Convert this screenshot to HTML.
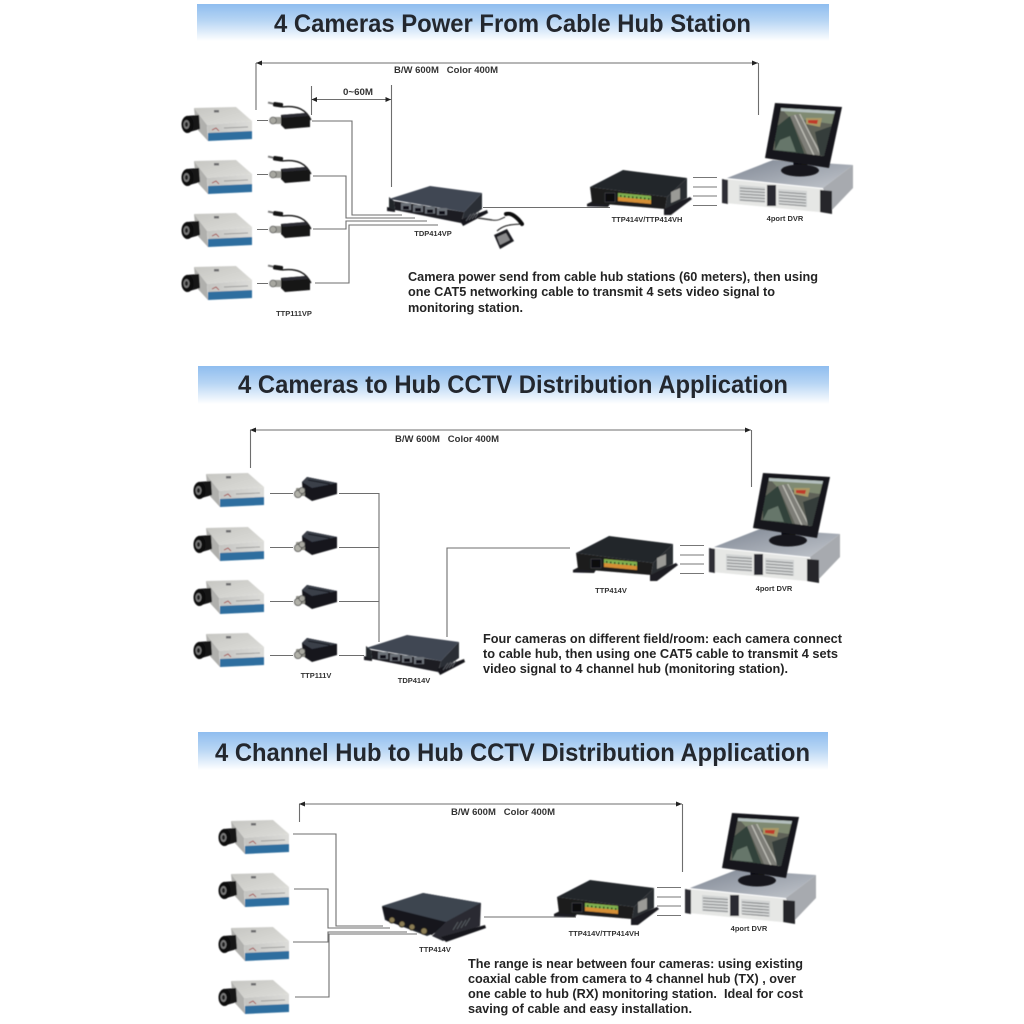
<!DOCTYPE html>
<html><head><meta charset="utf-8"><title>CCTV Distribution Applications</title>
<style>
html,body{margin:0;padding:0;background:#fff}
svg{display:block}
text{font-family:"Liberation Sans",sans-serif;font-weight:bold;fill:#222}
.t{font-size:25px;fill:#23272e}
.b{font-size:13px;fill:#242424}
.d{font-size:9px;fill:#333}
.l{font-size:7.5px;fill:#333}
.w{fill:none;stroke:#6e6e6e;stroke-width:1.1}
</style></head><body>
<svg xmlns="http://www.w3.org/2000/svg" width="1024" height="1024" viewBox="0 0 1024 1024">
<defs>
<linearGradient id="band" x1="0" y1="0" x2="0" y2="1"><stop offset="0" stop-color="#8fbdef"/><stop offset=".45" stop-color="#b7d5f4"/><stop offset="1" stop-color="#fff"/></linearGradient>
<linearGradient id="camtop" x1="0" y1="0" x2="1" y2="1"><stop offset="0" stop-color="#c6c6c2"/><stop offset="1" stop-color="#dededa"/></linearGradient>
<linearGradient id="camfront" x1="0" y1="0" x2="1" y2="0"><stop offset="0" stop-color="#c4c4c1"/><stop offset="1" stop-color="#dcdcd9"/></linearGradient>
<linearGradient id="dvrtop" x1="0" y1="0" x2="1" y2="1"><stop offset="0" stop-color="#7f8794"/><stop offset="1" stop-color="#c2c6cc"/></linearGradient>
<clipPath id="scr"><polygon points="781,108 835,111 824,156 773,150"/></clipPath>
<filter id="s" x="-5%" y="-5%" width="110%" height="110%"><feGaussianBlur stdDeviation="0.5"/></filter>

<g id="cam" filter="url(#s)">
<polygon points="194,108 236,107 252,121 207,125" fill="url(#camtop)"/>
<polygon points="194,108 207,125 208,141 196,128" fill="#b0b0ad"/>
<polygon points="207,125 252,121 252,133 208,134" fill="url(#camfront)"/>
<polygon points="208,133 252,131 252,139 208,141" fill="#2f6e9f"/>
<rect x="214" y="110" width="5" height="2.500" fill="#6d6d70"/>
<path d="M212,130l4,-2l3,3" stroke="#a03030" stroke-width=".8" fill="none"/>
<path d="M224,128l24,-1" stroke="#8a8a8a" stroke-width=".7"/>
<polygon points="186,116 199,115 200,129 186,133" fill="#131316"/>
<ellipse cx="187.500" cy="124.500" rx="6" ry="8.500" fill="#0e0e0e"/>
<ellipse cx="186.500" cy="124.500" rx="3" ry="4.500" fill="#7d7d7d"/>
<ellipse cx="186.500" cy="124.500" rx="1.600" ry="2.500" fill="#222"/>
</g>

<g id="balunp" filter="url(#s)">
<path d="M282,107C298,105 306,110 311,120" fill="none" stroke="#111" stroke-width="1.300"/>
<rect x="268" y="102" width="6" height="2" fill="#777" transform="rotate(12 270 103)"/>
<rect x="273" y="102.500" width="10" height="4.500" rx="1.500" fill="#161616" transform="rotate(8 278 105)"/>
<rect x="271" y="117" width="10" height="7" rx="1" fill="#9c9c96"/>
<circle cx="273" cy="120.500" r="3.400" fill="#a7a7a0" stroke="#555" stroke-width=".7"/>
<polygon points="281,115 306,113 310,119 310,127 285,129 281,125" fill="#131315"/>
<polygon points="281,115 306,113 308,116 283,118" fill="#2b2c30"/>
</g>

<g id="balun" filter="url(#s)">
<polygon points="302,482 307,477 337,483 337,494 312,501 303,495" fill="#16181c"/>
<polygon points="302,482 307,477 337,483 312,488" fill="#3a404a"/>
<path d="M308,480l22,4" stroke="#15171b" stroke-width="1"/>
<rect x="296" y="488" width="9" height="8" rx="1" fill="#8e8e86"/>
<circle cx="298" cy="494" r="3.600" fill="#b0b0a8" stroke="#444" stroke-width=".8"/>
<circle cx="302" cy="490.500" r="3" fill="#a8a8a0" stroke="#444" stroke-width=".7"/>
</g>

<g id="hub" filter="url(#s)">
<polygon points="364,656 372,658 372,661 364,660" fill="#1d1e22"/>
<polygon points="366,646 371,650 372,659 366,657" fill="#23252a"/>
<polygon points="366,648 407,635 459,642 441,661" fill="#3f4653"/>
<polygon points="371,650 441,661 438,672 372,659" fill="#1c1e24"/>
<polygon points="441,661 459,642 459,658 438,673" fill="#2c2f36"/>
<polygon points="437,669 464,659 465,662 440,675" fill="#17181c"/>
<g fill="#6a6f77"><rect x="378" y="652" width="10" height="7"/><rect x="390" y="654" width="10" height="7"/><rect x="402" y="655.500" width="10" height="7"/><rect x="414" y="657" width="10" height="7"/></g>
<g fill="#111114"><rect x="380" y="655" width="6" height="3.500"/><rect x="392" y="657" width="6" height="3.500"/><rect x="404" y="658.500" width="6" height="3.500"/><rect x="416" y="660" width="6" height="3.500"/></g>
<path d="M443,670l5,-7M446,669l5,-7M449,668l5,-7M452,667l4,-6" stroke="#5a5d63" stroke-width=".9"/>
</g>

<g id="coax" filter="url(#s)">
<polygon points="382,907 423,893 481,903 450,927 427,936 385,920" fill="#23262c"/>
<polygon points="382,906 423,893 481,903 446,922" fill="#3c4450"/>
<polygon points="382,906 446,922 432,935 387,921" fill="#15161a"/>
<polygon points="446,922 481,903 480,926 443,941 432,936" fill="#2a2c32"/>
<polygon points="441,937 485,925 486,928 446,942" fill="#15161a"/>
<path d="M453,930l5,-8M457,929l5,-8M461,928l5,-8M465,926l5,-8" stroke="#55585e" stroke-width="1"/>
<g fill="#8b7d55" stroke="#26231a" stroke-width="1"><circle cx="392" cy="920" r="3"/><circle cx="402" cy="924" r="3"/><circle cx="412" cy="927" r="3"/><circle cx="424" cy="931" r="3.300"/></g>
</g>

<g id="ttp" filter="url(#s)">
<polygon points="587,204 595,200 610,204 608,207 587,206.500" fill="#1b1c20"/>
<polygon points="664,208 690,197 692,199 671,215 664,215" fill="#1c1d21"/>
<polygon points="590,187 623,170 687,178 667,197" fill="#24262a"/>
<polygon points="590,187 667,197 665,209 592,203" fill="#1b1c1f"/>
<polygon points="667,197 687,178 687,198 665,209" fill="#2c2d31"/>
<polygon points="671,192 680,188 680,199 671,203" fill="#9a9a96"/>
<rect x="605" y="193" width="10" height="9" fill="#07070a" stroke="#4a4a4e" stroke-width=".6"/>
<polygon points="618,193 651,196 651,204 618,201" fill="#d58f35"/>
<polygon points="618,193 651,196 651,200 618,197" fill="#7fb050"/>
<g fill="#2e4a1e"><rect x="620" y="195" width="1.500" height="2"/><rect x="624" y="195.500" width="1.500" height="2"/><rect x="628" y="196" width="1.500" height="2"/><rect x="632" y="196.300" width="1.500" height="2"/><rect x="636" y="196.700" width="1.500" height="2"/><rect x="640" y="197" width="1.500" height="2"/><rect x="644" y="197.500" width="1.500" height="2"/><rect x="648" y="198" width="1.500" height="2"/></g>
</g>

<g id="mon" filter="url(#s)">
<polygon points="793,158 808,160 807,170 794,170" fill="#101012"/>
<ellipse cx="800" cy="170.500" rx="19" ry="6" fill="#15161a"/>
<polygon points="775,103 842,107 829,168 765,158" fill="#17181c"/>
<g clip-path="url(#scr)">
<rect x="770" y="105" width="70" height="55" fill="#5e6258"/>
<polygon points="781,108 836,111 832,124 790,118" fill="#7f8a72"/>
<polygon points="781,108 836,111 835,114 781,111" fill="#b4bfbe"/>
<polygon points="775,128 790,116 806,158 775,152" fill="#33423a"/>
<polygon points="790,116 798,114 824,156 808,156" fill="#7e7e78"/>
<polygon points="794,115 795.500,115 815,156 813.500,156" fill="#bdbdb6"/>
<polygon points="799,114 800.500,114 822,156 820.500,156" fill="#b5b5ae"/>
<polygon points="806,118 822,118 820,127 806,124" fill="#a99a66"/>
<polygon points="808,120 818,120 817,124 808,123" fill="#bf3a2c"/>
<polygon points="815,132 832,126 826,156 820,156" fill="#353c3a"/>
<polygon points="780,140 790,136 796,152 775,150" fill="#66766a"/>
</g>
</g>

<g id="dvr" filter="url(#s)">
<polygon points="727,178 773,160 853,165 823,188" fill="url(#dvrtop)"/>
<polygon points="725,179 823,189 829,213 725,203" fill="#e6e7e5"/>
<polygon points="823,188 853,165 853,188 831,211" fill="#a7aaaf"/>
<polygon points="722,179 728,180 728,204 722,203" fill="#2d2f34"/>
<polygon points="820,190 832,191 832,214 820,212" fill="#25272b"/>
<polygon points="739,185 765,187 765,203 739,201" fill="#d2d4d4"/>
<polygon points="778,189 807,191 807,207 778,204" fill="#d2d4d4"/>
<rect x="767" y="185" width="9" height="21" fill="#2a2c30"/>
<path d="M740,188l25,1.500M740,191l25,1.500M740,194l25,1.500M740,197l25,1.500M740,200l25,1.500M779,192l27,2M779,195l27,2M779,198l27,2M779,201l27,2M779,204l27,2" stroke="#686a6d" stroke-width=".8" fill="none"/>
</g>

<g id="stubs" fill="none" stroke="#777" stroke-width="1.100"><path d="M693,177.500H717M693,187H717M693,196H717M693,205.500H717"/></g>
</defs>

<rect width="1024" height="1024" fill="#fff"/>

<rect x="197" y="4" width="632" height="37" fill="url(#band)"/>
<rect x="198" y="366" width="631" height="38" fill="url(#band)"/>
<rect x="198" y="732" width="630" height="38" fill="url(#band)"/>
<text class="t" x="274" y="32" textLength="477" lengthAdjust="spacingAndGlyphs">4 Cameras Power From Cable Hub Station</text>
<text class="t" x="238" y="393" textLength="550" lengthAdjust="spacingAndGlyphs">4 Cameras to Hub CCTV Distribution Application</text>
<text class="t" x="215" y="761" textLength="595" lengthAdjust="spacingAndGlyphs">4 Channel Hub to Hub CCTV Distribution Application</text>

<!-- Scheme 1 -->
<g class="w">
<path d="M256,63H758M256,63V110M758.500,63V115"/>
<path d="M311,99.500H391M311.500,86V115M391.500,85V187"/>
<path d="M257,120.500H268M257,174.500H268M257,229.500H268M257,283.500H268"/>
<path d="M312,121H352V215H402"/>
<path d="M313,176H346V218H415"/>
<path d="M313,229H346V221H427"/>
<path d="M315,283H349V225H438"/>
<path d="M483,207.500H610"/>
</g>
<polygon points="256,63 262,60.500 262,65.500" fill="#222"/><polygon points="758,63 752,60.500 752,65.500" fill="#222"/>
<polygon points="311.500,99.500 317,97 317,102" fill="#222"/><polygon points="391,99.500 385.500,97 385.500,102" fill="#222"/>
<use href="#cam"/><use href="#cam" y="53"/><use href="#cam" y="106"/><use href="#cam" y="159"/>
<use href="#balunp"/><use href="#balunp" y="54"/><use href="#balunp" y="109"/><use href="#balunp" y="163"/>
<use href="#hub" x="23" y="-449"/>
<use href="#ttp"/><use href="#dvr"/><use href="#mon"/><use href="#stubs"/>
<g filter="url(#s)">
<path d="M478,218L492,220" stroke="#444" fill="none" stroke-width="1.400"/>
<path d="M492,220C498,221 501,219 505,217" stroke="#222" fill="none" stroke-width="1"/>
<path d="M506,214C511,212 518,218 522,224" stroke="#111" stroke-width="4" fill="none" stroke-linecap="round"/>
<path d="M497,231C505,224 512,225 520,224" stroke="#111" stroke-width="1" fill="none"/>
<polygon points="494,235 507,229 514,241 500,249" fill="#1b1c20"/>
<polygon points="497,237 506,233 510,240 500,245" fill="#8a8a8c"/>
</g>
<text class="d" x="394" y="73" textLength="104" lengthAdjust="spacingAndGlyphs" xml:space="preserve">B/W 600M   Color 400M</text>
<text class="d" x="343" y="95" textLength="30" lengthAdjust="spacingAndGlyphs">0~60M</text>
<text class="l" x="294" y="316" text-anchor="middle">TTP111VP</text>
<text class="l" x="433" y="236" text-anchor="middle">TDP414VP</text>
<text class="l" x="647" y="222" text-anchor="middle">TTP414V/TTP414VH</text>
<text class="l" x="785" y="221" text-anchor="middle">4port DVR</text>
<text class="b" x="408" y="281" textLength="410" lengthAdjust="spacingAndGlyphs">Camera power send from cable hub stations (60 meters), then using</text>
<text class="b" x="408" y="296" textLength="367" lengthAdjust="spacingAndGlyphs">one CAT5 networking cable to transmit 4 sets video signal to</text>
<text class="b" x="408" y="312" textLength="115" lengthAdjust="spacingAndGlyphs">monitoring station.</text>

<!-- Scheme 2 -->
<g class="w">
<path d="M250,430H751M250.500,430V468M751.500,430V487"/>
<path d="M270,493.500H293M270,547.500H293M270,601.500H293M270,655.500H293"/>
<path d="M339,493.500H379V642M339,547.500H379M339,601.500H379M339,655.500H364"/>
<path d="M447,637V548H570"/>
</g>
<polygon points="250,430 256,427.500 256,432.500" fill="#222"/><polygon points="751,430 745,427.500 745,432.500" fill="#222"/>
<use href="#cam" x="12" y="366"/><use href="#cam" x="12" y="420"/><use href="#cam" x="12" y="473"/><use href="#cam" x="12" y="526"/>
<use href="#balun"/><use href="#balun" y="54"/><use href="#balun" y="108"/><use href="#balun" y="161"/>
<use href="#hub"/>
<use href="#ttp" x="-14" y="366"/><use href="#dvr" x="-13" y="369"/><use href="#mon" x="-12" y="370"/><use href="#stubs" x="-13" y="368"/>
<text class="d" x="395" y="442" textLength="104" lengthAdjust="spacingAndGlyphs" xml:space="preserve">B/W 600M   Color 400M</text>
<text class="l" x="316" y="678" text-anchor="middle">TTP111V</text>
<text class="l" x="414" y="683" text-anchor="middle">TDP414V</text>
<text class="l" x="611" y="593" text-anchor="middle">TTP414V</text>
<text class="l" x="774" y="591" text-anchor="middle">4port DVR</text>
<text class="b" x="483" y="643" textLength="359" lengthAdjust="spacingAndGlyphs">Four cameras on different field/room: each camera connect</text>
<text class="b" x="483" y="658" textLength="355" lengthAdjust="spacingAndGlyphs">to cable hub, then using one CAT5 cable to transmit 4 sets</text>
<text class="b" x="483" y="673" textLength="305" lengthAdjust="spacingAndGlyphs">video signal to 4 channel hub (monitoring station).</text>

<!-- Scheme 3 -->
<g class="w">
<path d="M299,804H682M299.500,804V822M682.500,804V872"/>
<path d="M293,834H336V926H383"/>
<path d="M294,889H328V928H390"/>
<path d="M293,942H328V932H407"/>
<path d="M295,997H329V934H417"/>
<path d="M484,917H576"/>
</g>
<polygon points="299,804 305,801.500 305,806.500" fill="#222"/><polygon points="682,804 676,801.500 676,806.500" fill="#222"/>
<use href="#cam" x="37" y="713"/><use href="#cam" x="37" y="766"/><use href="#cam" x="37" y="820"/><use href="#cam" x="37" y="873"/>
<use href="#coax"/>
<use href="#ttp" x="-33" y="710"/><use href="#dvr" x="-37" y="710"/><use href="#mon" x="-43" y="710"/><use href="#stubs" x="-36" y="710"/>
<text class="d" x="451" y="815" textLength="104" lengthAdjust="spacingAndGlyphs" xml:space="preserve">B/W 600M   Color 400M</text>
<text class="l" x="435" y="952" text-anchor="middle">TTP414V</text>
<text class="l" x="604" y="936" text-anchor="middle">TTP414V/TTP414VH</text>
<text class="l" x="749" y="931" text-anchor="middle">4port DVR</text>
<text class="b" x="468" y="968" textLength="335" lengthAdjust="spacingAndGlyphs">The range is near between four cameras: using existing</text>
<text class="b" x="468" y="983" textLength="328" lengthAdjust="spacingAndGlyphs">coaxial cable from camera to 4 channel hub (TX) , over</text>
<text class="b" x="468" y="998" textLength="335" lengthAdjust="spacingAndGlyphs" xml:space="preserve">one cable to hub (RX) monitoring station.  Ideal for cost</text>
<text class="b" x="468" y="1013" textLength="224" lengthAdjust="spacingAndGlyphs">saving of cable and easy installation.</text>
</svg>
</body></html>
